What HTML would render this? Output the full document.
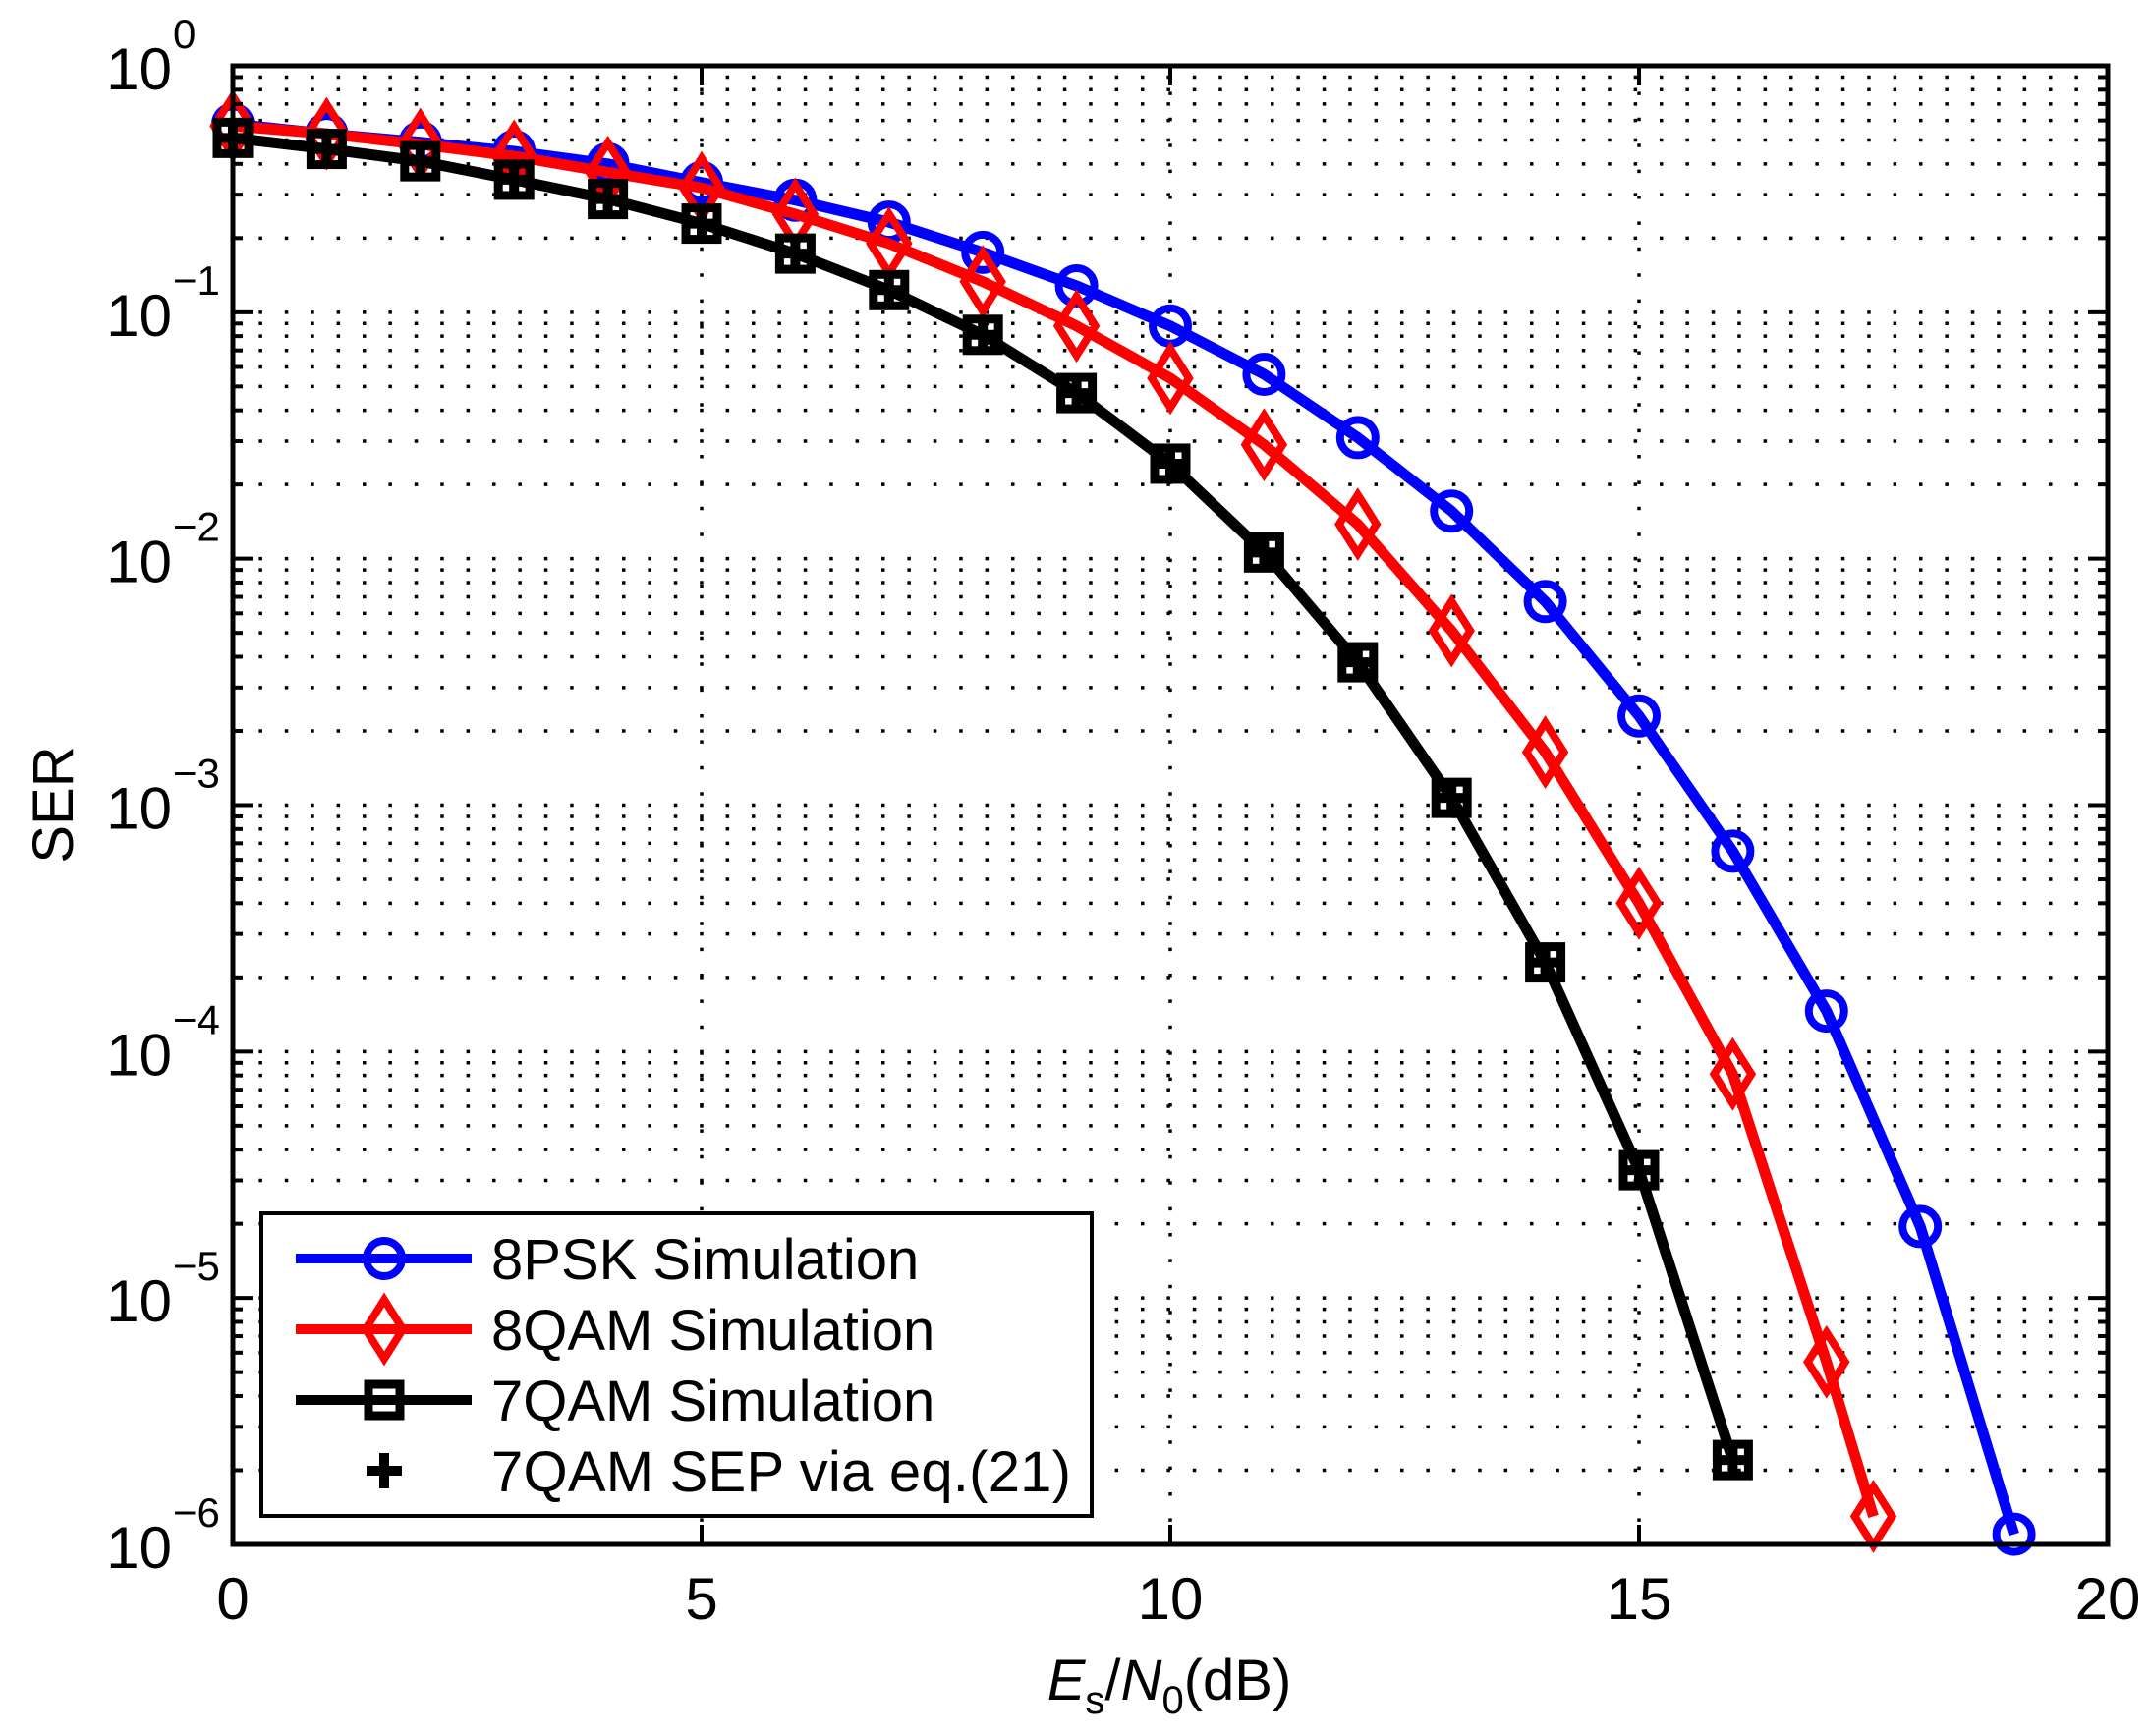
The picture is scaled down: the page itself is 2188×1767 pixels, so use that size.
<!DOCTYPE html>
<html><head><meta charset="utf-8"><style>
html,body{margin:0;padding:0;background:#fff}
svg{display:block}
text{font-family:"Liberation Sans",Arial,sans-serif;fill:#000}
</style></head><body>
<svg id="chart" width="2188" height="1767" viewBox="0 0 2188 1767" xmlns="http://www.w3.org/2000/svg">
<rect width="2188" height="1767" fill="#fff"/>
<g id="grid"></g>
<g id="series"></g>
<g id="axes"></g>
<g id="legend"></g>
<text x="0" y="0" font-size="58" text-anchor="middle" transform="translate(74,819) rotate(-90)">SER</text>
<text x="1190" y="1730" font-size="58" text-anchor="middle"><tspan font-style="italic">E</tspan><tspan font-size="40" dy="14">s</tspan><tspan dy="-14">/</tspan><tspan font-style="italic">N</tspan><tspan font-size="40" dy="14">0</tspan><tspan dy="-14">(dB)</tspan></text>
</svg>
<script>
const xTicks = [0,5,10,15,20];
const yExps = [0,-1,-2,-3,-4,-5,-6];
const pskX = [0,1,2,3,4,5,6,7,8,9,10,11,12,13,14,15,16,17,18,19];
const pskY = [0.58,0.53,0.49,0.45,0.40,0.336,0.285,0.232,0.175,0.128,0.088,0.056,0.031,0.0156,0.0067,0.0023,0.00065,0.000146,1.95e-5,1.1e-6];
const qam8X = [0,1,2,3,4,5,6,7,8,9,10,11,12,13,14,15,16,17,17.5];
const qam8Y = [0.57,0.53,0.48,0.43,0.37,0.32,0.25,0.19,0.133,0.088,0.054,0.029,0.0138,0.0051,0.00164,0.0004,8.1e-5,5.5e-6,1.3e-6];
const qam7X = [0,1,2,3,4,5,6,7,8,9,10,11,12,13,14,15,16];
const qam7Y = [0.51,0.46,0.41,0.345,0.288,0.229,0.173,0.123,0.081,0.047,0.0243,0.0106,0.0038,0.00107,0.00023,3.3e-5,2.2e-6];
const sepX = [0,1,2,3,4,5,6,7,8,9,10,11,12,13,14,15,16];
const sepY = [0.51,0.46,0.41,0.345,0.288,0.229,0.173,0.123,0.081,0.047,0.0243,0.0106,0.0038,0.00107,0.00023,3.3e-5,2.2e-6];

const L=237,R=2145,T=67,B=1572;
const NS='http://www.w3.org/2000/svg';
function xs(v){return L+(v-0)/(20-0)*(R-L);}
function ys(v){return T+(0-Math.log10(v))/6*(B-T);}
function mk(tag,attrs,parent){const e=document.createElementNS(NS,tag);for(const k in attrs)e.setAttribute(k,attrs[k]);parent.appendChild(e);return e;}
const grid=document.getElementById('grid'),axes=document.getElementById('axes'),series=document.getElementById('series'),legend=document.getElementById('legend');
const dot={stroke:'#000','stroke-width':3.5,'stroke-dasharray':'3.5 22.9'};
xTicks.forEach(v=>{if(v>0&&v<20){const l=mk('line',Object.assign({x1:xs(v),x2:xs(v),y1:T,y2:B},dot),grid);}});
for(let e=0;e>-6;e--){for(let m=1;m<10;m++){const v=m*Math.pow(10,e-1);const y=ys(v);if(y<=T+1||y>=B-1)continue;
 const l=mk('line',Object.assign({x1:L,x2:R,y1:y,y2:y},dot),grid);
 const len=(m===1)?20:10;
 mk('line',{x1:L,x2:L+len,y1:y,y2:y,stroke:'#000','stroke-width':4},axes);
 mk('line',{x1:R,x2:R-len,y1:y,y2:y,stroke:'#000','stroke-width':4},axes);}}
const box=mk('rect',{x:L,y:T,width:R-L,height:B-T,fill:'none',stroke:'#000','stroke-width':5},axes);

xTicks.forEach(v=>{const x=xs(v);
 mk('line',{x1:x,x2:x,y1:B,y2:B-20,stroke:'#000','stroke-width':4},axes);
 mk('line',{x1:x,x2:x,y1:T,y2:T+20,stroke:'#000','stroke-width':4},axes);
 const t=mk('text',{x:x,y:1648,'font-size':60,'text-anchor':'middle'},axes);t.textContent=v;
 });
yExps.forEach(e=>{const y=ys(Math.pow(10,e));
 const t=mk('text',{x:175,y:y+24,'font-size':60,'text-anchor':'end'},axes);t.textContent='10';
 
 const s=mk('text',{x:176,y:y-18,'font-size':42,'text-anchor':'start'},axes);s.textContent=(e===0?'0':'\u2212'+(-e));
 });
function poly(X,Y,color,name){const p=mk('polyline',{points:X.map((x,i)=>xs(x)+','+ys(Y[i])).join(' '),fill:'none',stroke:color,'stroke-width':11,'stroke-linejoin':'round'},series);
 }
function circle(x,y,g){return mk('circle',{cx:x,cy:y,r:18,fill:'none',stroke:'#00f','stroke-width':8},g);}
function diamond(x,y,g){return mk('polygon',{points:`${x},${y-30} ${x+19},${y} ${x},${y+30} ${x-19},${y}`,fill:'none',stroke:'#f00','stroke-width':8},g);}
function square(x,y,g){return mk('rect',{x:x-16,y:y-16,width:32,height:32,fill:'none',stroke:'#000','stroke-width':9},g);}
function plus(x,y,g){return mk('path',{d:`M${x-18},${y}H${x+18}M${x},${y-18}V${y+18}`,stroke:'#000','stroke-width':10},g);}
poly(pskX,pskY,'#00f','line-8psk');
pskX.forEach((x,i)=>{const m=circle(xs(x),ys(pskY[i]),series);});
poly(qam8X,qam8Y,'#f00','line-8qam');
qam8X.forEach((x,i)=>{const m=diamond(xs(x),ys(qam8Y[i]),series);});
poly(qam7X,qam7Y,'#000','line-7qam');
qam7X.forEach((x,i)=>{const m=square(xs(x),ys(qam7Y[i]),series);});
sepX.forEach((x,i)=>{const m=plus(xs(x),ys(sepY[i]),series);});
const lb=mk('rect',{x:266,y:1235,width:845,height:308,fill:'#fff',stroke:'#000','stroke-width':4},legend);

const rows=[['8PSK Simulation','#00f',circle,true],['8QAM Simulation','#f00',diamond,true],['7QAM Simulation','#000',square,true],['7QAM SEP via eq.(21)','#000',plus,false]];
const rowY=[1281,1353,1425,1497];
rows.forEach((r,i)=>{const g=mk('g',{},legend);
 const y=rowY[i];
 if(r[3])mk('line',{x1:301,x2:480,y1:y,y2:y,stroke:r[1],'stroke-width':10},g);
 r[2](391,y,g);
 const t=mk('text',{x:500,y:y+21,'font-size':58,textLength:r[0].length>16?590:null},g);
 if(r[0].length<=16)t.removeAttribute('textLength');
 t.textContent=r[0];});
</script>
</body></html>
